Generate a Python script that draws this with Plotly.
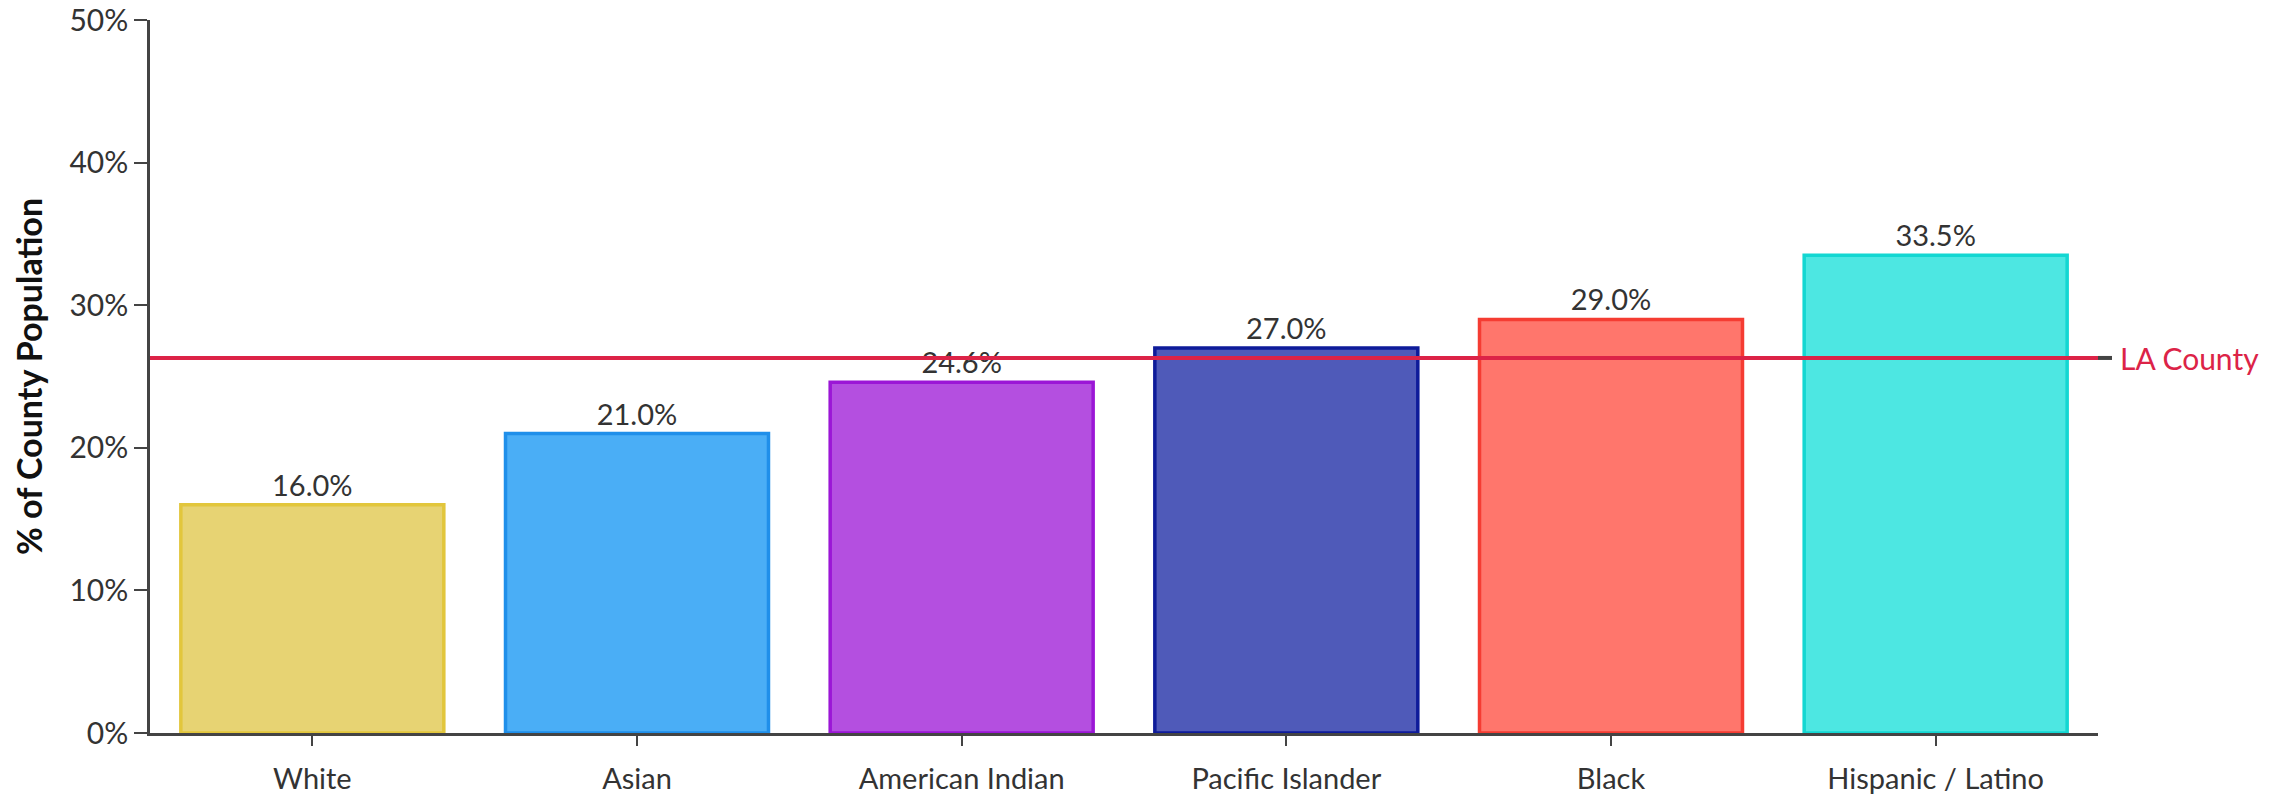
import plotly.graph_objects as go

categories = ["White", "Asian", "American Indian", "Pacific Islander", "Black", "Hispanic / Latino"]
values = [16.0, 21.0, 24.6, 27.0, 29.0, 33.5]
la_county = 26.3
fill_colors = ["#E7D373", "#4AAEF6", "#B44FE0", "#4F5AB9", "#FF766C", "#4DE7E2"]
line_colors = ["#E2C63C", "#1F8FEA", "#9B16D6", "#0E1B9A", "#F53C32", "#13D7D2"]
y_ticks = [0, 10, 20, 30, 40, 50]
y_tick_labels = [f"{t}%" for t in y_ticks]

FONT = "Lato"
TXT = "#333333"

fig = go.Figure()
fig.add_trace(go.Bar(
    x=categories,
    y=values,
    marker=dict(color=fill_colors, line=dict(color=line_colors, width=3.5)),
    text=[f"{v:.1f}%" for v in values],
    textposition="outside",
    cliponaxis=False,
    textfont=dict(family=FONT, size=29, color=TXT),
    showlegend=False,
))

# LA County reference line
fig.add_shape(type="line", xref="paper", yref="y", x0=0, x1=1, y0=la_county, y1=la_county,
              line=dict(color="#DC2347", width=4), layer="above")
fig.add_shape(type="line", xref="paper", yref="y", x0=1, x1=1 + 14 / 1948, y0=la_county, y1=la_county,
              line=dict(color="#444444", width=4), layer="above")
fig.add_annotation(xref="paper", yref="y", x=1 + 20 / 1948, y=la_county, text="LA County",
                   showarrow=False, xanchor="left", yanchor="middle",
                   font=dict(family=FONT, size=30, color="#DC2347"))

fig.update_layout(
    width=2282, height=795,
    margin=dict(l=150, r=184, t=20, b=62),
    paper_bgcolor="white", plot_bgcolor="white",
    bargap=0.19,
    font=dict(family=FONT, color=TXT),
    xaxis=dict(
        automargin=False,
        showline=True, linecolor="#444444", linewidth=2.5,
        ticks="outside", ticklen=10, tickwidth=2, tickcolor="#444444",
        tickfont=dict(family=FONT, size=29, color=TXT),
        ticklabelstandoff=8,
        showgrid=False, zeroline=False,
        range=[-0.5, 5.5],
    ),
    yaxis=dict(
        automargin=False,
        ticklabeloverflow="allow",
        range=[0, 50],
        tickvals=y_ticks, ticktext=y_tick_labels,
        showline=True, linecolor="#444444", linewidth=2.5,
        ticks="outside", ticklen=13, tickwidth=2, tickcolor="#444444",
        tickfont=dict(family=FONT, size=30, color=TXT),
        showgrid=False, zeroline=False,
        title=dict(text="<b>% of County Population</b>", standoff=17,
                   font=dict(family=FONT, size=34, color="#111111")),
    ),
)

fig.write_html("out.html", config={"displayModeBar": False},
               post_script="document.body.style.margin='0px';document.body.style.overflow='hidden';")
